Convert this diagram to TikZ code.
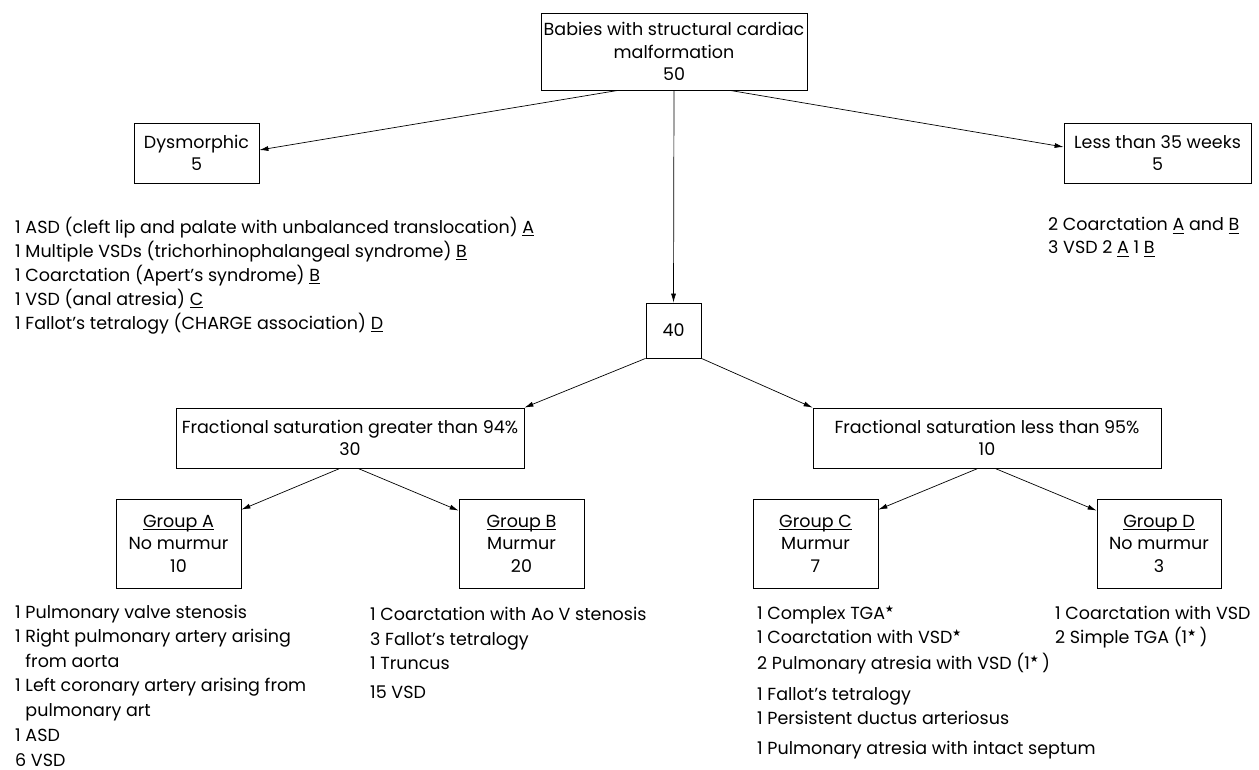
\documentclass[tikz,border=0pt]{standalone}
\usepackage{fontspec}
\usepackage{graphicx}
\setmainfont{Poppins}
\newfontfamily\symfont{DejaVu Sans}
\usetikzlibrary{arrows.meta}
\newcommand{\astar}{\textsuperscript{\symfont\scalebox{0.8}{★}}}
\newcommand{\uln}[1]{\leavevmode\setbox0\hbox{#1}\rlap{\rule[-2.6pt]{\wd0}{0.7pt}}\box0\relax}
\begin{document}
\begin{tikzpicture}[x=1pt,y=-1pt,
  every node/.style={font=\fontsize{17.5}{22.5}\selectfont, inner sep=0pt},
  box/.style={draw, line width=0.8pt, align=center},
  lst/.style={anchor=base west, align=left, font=\fontsize{17.5}{24}\selectfont},
  arr/.style={line width=0.7pt, -{Latex[length=9pt,width=5pt]}}]
\useasboundingbox (0,0) rectangle (1259,770);
% boxes
\node[box, minimum width=266pt, minimum height=77pt] (top) at (674,51.5) {Babies with structural cardiac\\malformation\\50};
\node[box, minimum width=125pt, minimum height=60pt] (dys) at (196.5,153) {Dysmorphic\\5};
\node[box, minimum width=187pt, minimum height=60pt] (less) at (1157.5,153) {Less than 35 weeks\\5};
\node[box, minimum width=55pt, minimum height=55pt] (forty) at (673.5,330.5) {40};
\node[box, minimum width=348pt, minimum height=60pt] (lfrac) at (350,438) {Fractional saturation greater than 94\%\\30};
\node[box, minimum width=348pt, minimum height=60pt] (rfrac) at (987,438) {Fractional saturation less than 95\%\\10};
\node[box, minimum width=125pt, minimum height=89pt] (ga) at (178.5,543.5) {\uln{Group A}\\No murmur\\10};
\node[box, minimum width=125pt, minimum height=89pt] (gb) at (521.5,543.5) {\uln{Group B}\\Murmur\\20};
\node[box, minimum width=125pt, minimum height=89pt] (gc) at (815.5,543.5) {\uln{Group C}\\Murmur\\7};
\node[box, minimum width=124pt, minimum height=89pt] (gd) at (1159,543.5) {\uln{Group D}\\No murmur\\3};
% lists (anchored at the baseline of their last line)
\node[lst] (ldys) at (15,329) {1 ASD (cleft lip and palate with unbalanced translocation) \uln{A}\\
1 Multiple VSDs (trichorhinophalangeal syndrome) \uln{B}\\
1 Coarctation (Apert's syndrome) \uln{B}\\
1 VSD (anal atresia) \uln{C}\\
1 Fallot's tetralogy (CHARGE association) \uln{D}};
\node[lst, font=\fontsize{17.5}{23}\selectfont] (lless) at (1048,254) {2 Coarctation \uln{A} and \uln{B}\\
3 VSD 2 \uln{A} 1 \uln{B}};
\node[lst, font=\fontsize{17.5}{24.5}\selectfont] (lga) at (15,766) {1 Pulmonary valve stenosis\\
1 Right pulmonary artery arising\\
\phantom{1 }from aorta\\
1 Left coronary artery arising from\\
\phantom{1 }pulmonary art\\[1pt]
1 ASD\\
6 VSD};
\node[lst] (lgb) at (370,698) {1 Coarctation with Ao V stenosis\\[1pt]
3 Fallot's tetralogy\\
1 Truncus\\[5pt]
15 VSD};
\node[lst] (lgc) at (757,754) {1 Complex TGA\astar\\
1 Coarctation with VSD\astar\\[2pt]
2 Pulmonary atresia with VSD (1\astar\,)\\[7pt]
1 Fallot's tetralogy\\
1 Persistent ductus arteriosus\\[6pt]
1 Pulmonary atresia with intact septum};
\node[lst] (lgd) at (1055,643) {1 Coarctation with VSD\\
2 Simple TGA (1\astar\,)};
% connectors
\draw[arr] ([xshift=-56pt]top.south) -- ([yshift=3pt]dys.east);
\draw[arr] ([xshift=56pt]top.south) -- ([yshift=6pt]less.west);
\draw[arr] (top.south) -- (forty.north);
\draw[arr] (forty.south west) -- (lfrac.north east);
\draw[arr] (forty.south east) -- (rfrac.north west);
\draw[arr] ([xshift=-10pt]lfrac.south) -- ([yshift=-11pt]ga.north east);
\draw[arr] ([xshift=8pt]lfrac.south) -- ([yshift=-12pt]gb.north west);
\draw[arr] ([xshift=-9pt]rfrac.south) -- ([yshift=-11pt]gc.north east);
\draw[arr] ([xshift=8pt]rfrac.south) -- ([yshift=-12pt]gd.north west);
\end{tikzpicture}
\end{document}
